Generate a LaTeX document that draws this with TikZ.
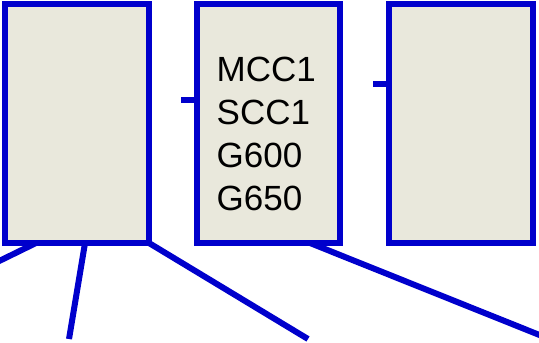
\documentclass[tikz,border=0pt]{standalone}
\usepackage{fontspec}
\setmainfont{Liberation Sans}
\usepackage{tikz}
\usepackage{xcolor}
\usetikzlibrary{calc,positioning}
\definecolor{linkblue}{RGB}{0,0,204}
\definecolor{panelfill}{RGB}{233,232,220}
\tikzset{
    panel/.style={rectangle, draw=linkblue, fill=panelfill, line width=6pt, minimum width=144pt, minimum height=239pt, inner sep=0pt, outer sep=0pt},
    wire/.style={draw=linkblue, line width=6pt},
    listing/.style={align=left, inner sep=0pt, anchor=north west, font=\fontsize{35}{43}\selectfont}
}
\begin{document}
\begin{tikzpicture}[x=1pt, y=-1pt]
\useasboundingbox (0,0) rectangle (539,343);
\clip (0,0) rectangle (539,343);

% Boxes
\node[panel] (left) at (77,123.5) {};
\node[panel, minimum width=143pt] (mid) at (268.5,123.5) {};
\node[panel] (right) at (461,123.5) {};
\node[listing] (codes) at (216.5,57) {MCC1\\SCC1\\G600\\G650};

% Stubs
\coordinate (stubA) at (181,100);
\coordinate (stubB) at (373,84);
\draw[wire] (stubA) -- (stubA -| mid.west);
\draw[wire] (stubB) -- (stubB -| right.west);

% Legs
\coordinate (legA) at (-12,266.5);
\coordinate (legB) at (69,339);
\coordinate (legC) at (308,339);
\coordinate (legD) at (552,340);
\draw[wire] ([xshift=31pt]left.south west) -- (legA);
\draw[wire] ([xshift=80pt]left.south west) -- (legB);
\draw[wire] (left.south east) -- (legC);
\draw[wire] ([xshift=113pt]mid.south west) -- (legD);

\end{tikzpicture}
\end{document}
